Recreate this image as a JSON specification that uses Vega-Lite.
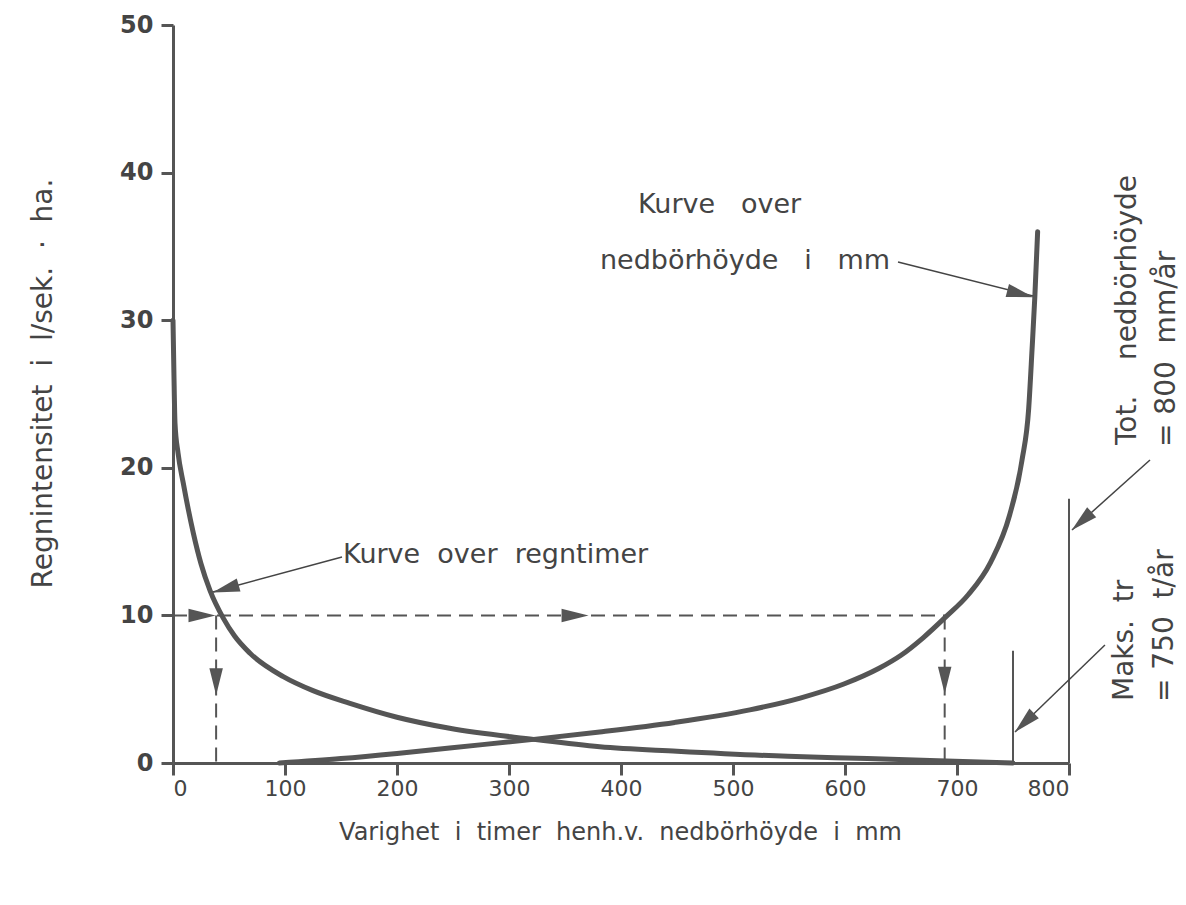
{
  "$schema": "https://vega.github.io/schema/vega-lite/v6.json",
  "autosize": {"type": "none"},
  "width": 896,
  "height": 738,
  "padding": {"left": 173, "top": 25, "right": 117, "bottom": 142},
  "background": "white",
  "config": {
    "view": {"stroke": null},
    "font": "DejaVu Sans",
    "axis": {"grid": false, "domainColor": "#555555", "domainWidth": 3, "tickColor": "#555555", "tickWidth": 3, "labelColor": "#444444", "titleColor": "#444444", "labelFont": "DejaVu Sans", "titleFont": "DejaVu Sans", "titleFontWeight": "normal"}
  },
  "datasets": {
    "curves": [
      {"x": 0, "y": 30, "series": "regntimer"},
      {"x": 0.8, "y": 26.5, "series": "regntimer"},
      {"x": 1.8, "y": 23, "series": "regntimer"},
      {"x": 4.5, "y": 21, "series": "regntimer"},
      {"x": 9.2, "y": 18.95, "series": "regntimer"},
      {"x": 18.2, "y": 15.56, "series": "regntimer"},
      {"x": 25, "y": 13.5, "series": "regntimer"},
      {"x": 33, "y": 11.7, "series": "regntimer"},
      {"x": 45, "y": 9.8, "series": "regntimer"},
      {"x": 55, "y": 8.6, "series": "regntimer"},
      {"x": 68.8, "y": 7.43, "series": "regntimer"},
      {"x": 98.5, "y": 5.85, "series": "regntimer"},
      {"x": 125, "y": 4.9, "series": "regntimer"},
      {"x": 158, "y": 4.04, "series": "regntimer"},
      {"x": 200, "y": 3.1, "series": "regntimer"},
      {"x": 247, "y": 2.35, "series": "regntimer"},
      {"x": 322, "y": 1.6, "series": "regntimer"},
      {"x": 381, "y": 1.1, "series": "regntimer"},
      {"x": 450, "y": 0.8, "series": "regntimer"},
      {"x": 549, "y": 0.45, "series": "regntimer"},
      {"x": 620, "y": 0.3, "series": "regntimer"},
      {"x": 683, "y": 0.15, "series": "regntimer"},
      {"x": 750, "y": 0.0, "series": "regntimer"},
      {"x": 95, "y": 0, "series": "nedbor"},
      {"x": 150, "y": 0.3, "series": "nedbor"},
      {"x": 200, "y": 0.65, "series": "nedbor"},
      {"x": 247, "y": 1.02, "series": "nedbor"},
      {"x": 322, "y": 1.6, "series": "nedbor"},
      {"x": 381, "y": 2.1, "series": "nedbor"},
      {"x": 448, "y": 2.75, "series": "nedbor"},
      {"x": 515, "y": 3.6, "series": "nedbor"},
      {"x": 560, "y": 4.4, "series": "nedbor"},
      {"x": 599, "y": 5.35, "series": "nedbor"},
      {"x": 630, "y": 6.4, "series": "nedbor"},
      {"x": 650, "y": 7.3, "series": "nedbor"},
      {"x": 670, "y": 8.5, "series": "nedbor"},
      {"x": 690, "y": 9.9, "series": "nedbor"},
      {"x": 710, "y": 11.4, "series": "nedbor"},
      {"x": 730, "y": 13.6, "series": "nedbor"},
      {"x": 747, "y": 16.8, "series": "nedbor"},
      {"x": 758, "y": 20.5, "series": "nedbor"},
      {"x": 764, "y": 24, "series": "nedbor"},
      {"x": 767, "y": 28, "series": "nedbor"},
      {"x": 769.5, "y": 31.6, "series": "nedbor"},
      {"x": 772, "y": 36, "series": "nedbor"}
    ],
    "markers": [
      {"x": 750, "y": 0, "y2": 7.6},
      {"x": 800, "y": 0, "y2": 17.9}
    ],
    "dashed": [
      {"x": 0, "x2": 690, "y": 10, "y2": 10},
      {"x": 38.5, "x2": 38.5, "y": 10, "y2": 0},
      {"x": 689, "x2": 689, "y": 10, "y2": 0}
    ],
    "leaders": [
      {"x": 150.9, "y": 13.96, "x2": 35.7, "y2": 11.59},
      {"x": 647.3, "y": 33.94, "x2": 767.9, "y2": 31.64},
      {"x": 872.3, "y": 20.53, "x2": 802.7, "y2": 15.79},
      {"x": 832.1, "y": 7.99, "x2": 751.8, "y2": 2.1}
    ],
    "heads": [
      {"x": 47.0, "y": 11.8, "angle": 74},
      {"x": 756.6, "y": 31.79, "angle": -75.6},
      {"x": 811.3, "y": 16.38, "angle": 48},
      {"x": 760.2, "y": 2.72, "angle": 45.8},
      {"x": 25.9, "y": 10, "angle": -90},
      {"x": 359, "y": 10, "angle": -90},
      {"x": 38.5, "y": 5.5, "angle": 0},
      {"x": 689, "y": 5.6, "angle": 0}
    ]
  },
  "layer": [
    {
      "data": {"name": "curves"},
      "mark": {"type": "line", "interpolate": "monotone", "strokeWidth": 5, "color": "#555555", "strokeCap": "round"},
      "encoding": {
        "x": {"field": "x", "type": "quantitative", "scale": {"domain": [0, 800], "nice": false}, "axis": {"values": [0, 100, 200, 300, 400, 500, 600, 700, 800], "tickSize": 12, "labelFontSize": 22, "labelPadding": 3, "title": "Varighet\u00a0 i\u00a0 timer\u00a0 henh.v.\u00a0 nedbörhöyde\u00a0 i\u00a0 mm", "titleFontSize": 24, "titleX": 447, "titleY": 69, "titleBaseline": "middle", "titleAlign": "center"}},
        "y": {"field": "y", "type": "quantitative", "scale": {"domain": [0, 50], "nice": false}, "axis": {"values": [0, 10, 20, 30, 40, 50], "tickSize": 12, "labelFontSize": 24, "labelFontWeight": "bold", "labelPadding": 8, "title": "Regnintensitet\u00a0 i\u00a0 l/sek.\u00a0 ·\u00a0 ha.", "titleFontSize": 28, "titleAngle": -90, "titleX": -130, "titleY": 358, "titleAlign": "center", "titleBaseline": "middle"}},
        "detail": {"field": "series"}
      }
    },
    {
      "data": {"name": "markers"},
      "mark": {"type": "rule", "strokeWidth": 2, "color": "#555555"},
      "encoding": {
        "x": {"field": "x", "type": "quantitative"},
        "y": {"field": "y", "type": "quantitative"},
        "y2": {"field": "y2"}
      }
    },
    {
      "data": {"name": "dashed"},
      "mark": {"type": "rule", "strokeWidth": 2, "color": "#555555", "strokeDash": [14, 8]},
      "encoding": {
        "x": {"field": "x", "type": "quantitative"},
        "x2": {"field": "x2"},
        "y": {"field": "y", "type": "quantitative"},
        "y2": {"field": "y2"}
      }
    },
    {
      "data": {"name": "leaders"},
      "mark": {"type": "rule", "strokeWidth": 1.5, "color": "#444444"},
      "encoding": {
        "x": {"field": "x", "type": "quantitative"},
        "x2": {"field": "x2"},
        "y": {"field": "y", "type": "quantitative"},
        "y2": {"field": "y2"}
      }
    },
    {
      "data": {"name": "heads"},
      "mark": {"type": "point", "shape": "M0,1L-0.5,-1L0.5,-1Z", "filled": true, "size": 729, "color": "#555555", "opacity": 1},
      "encoding": {
        "x": {"field": "x", "type": "quantitative"},
        "y": {"field": "y", "type": "quantitative"},
        "angle": {"field": "angle", "type": "quantitative", "scale": null}
      }
    },
    {
      "data": {"values": [{"label": "Kurve\u00a0\u00a0 over", "x": 488, "y": 37.8}]},
      "mark": {"type": "text", "fontSize": 27, "color": "#444444", "align": "center", "baseline": "middle"},
      "encoding": {"x": {"field": "x", "type": "quantitative"}, "y": {"field": "y", "type": "quantitative"}, "text": {"field": "label"}}
    },
    {
      "data": {"values": [{"label": "nedbörhöyde\u00a0\u00a0 i\u00a0\u00a0 mm", "x": 640.2, "y": 34.0}]},
      "mark": {"type": "text", "fontSize": 27, "letterSpacing": 1.5, "color": "#444444", "align": "right", "baseline": "middle"},
      "encoding": {"x": {"field": "x", "type": "quantitative"}, "y": {"field": "y", "type": "quantitative"}, "text": {"field": "label"}}
    },
    {
      "data": {"values": [{"label": "Kurve\u00a0 over\u00a0 regntimer", "x": 151.8, "y": 14.09}]},
      "mark": {"type": "text", "fontSize": 27, "color": "#444444", "align": "left", "baseline": "middle"},
      "encoding": {"x": {"field": "x", "type": "quantitative"}, "y": {"field": "y", "type": "quantitative"}, "text": {"field": "label"}}
    },
    {
      "data": {"values": [
        {"label": "Tot.\u00a0\u00a0\u00a0 nedbörhöyde", "x": 852.7, "y": 21.54},
        {"label": "=\u00a0800\u00a0 mm/år", "x": 887.5, "y": 21.41},
        {"label": "Maks.\u00a0 tr", "x": 850, "y": 4.2},
        {"label": "=\u00a0750\u00a0 t/år", "x": 885.7, "y": 4.13}
      ]},
      "mark": {"type": "text", "fontSize": 28, "color": "#444444", "align": "left", "baseline": "middle", "angle": -90},
      "encoding": {"x": {"field": "x", "type": "quantitative"}, "y": {"field": "y", "type": "quantitative"}, "text": {"field": "label"}}
    }
  ]
}
